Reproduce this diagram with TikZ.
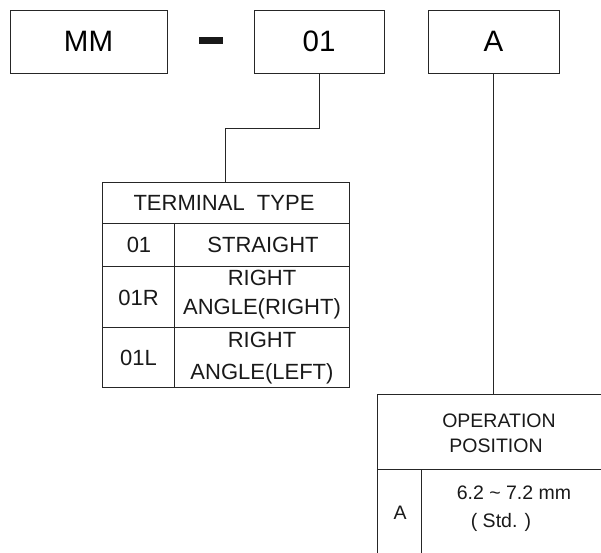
\documentclass[tikz,border=0pt]{standalone}
\usepackage{fontspec}
\setmainfont{Liberation Sans}
\begin{document}
\begin{tikzpicture}[x=1pt,y=-1pt,
  line width=0.9pt,
  ink/.style={draw=black!85},
  box/.style={ink, minimum height=63pt, inner sep=0pt, font=\fontsize{29.5}{30}\selectfont},
  cell/.style={ink, inner sep=0pt},
  tt/.style={font=\fontsize{22}{22}\selectfont, inner sep=0pt, anchor=base, text=black!90},
  ot/.style={font=\fontsize{19.5}{20}\selectfont, inner sep=0pt, anchor=base, text=black!90},
  wire/.style={ink, line width=0.9pt}]
\useasboundingbox (0,0) rectangle (601,552);
\clip (0,0) rectangle (601,552);
% top boxes
\node[box, minimum width=157pt] (mm) at (88.5,41.5) {MM};
\node[fill=black!90, minimum width=24pt, minimum height=7pt, inner sep=0pt] (dash) at (211,40.5) {};
\node[box, minimum width=130pt] (n01) at (319,41.5) {01};
\node[box, minimum width=131pt] (na) at (493.5,41.5) {A};
% terminal type table
\node[cell, minimum width=247pt, minimum height=41pt] (th) at (225.5,202.5) {};
\node[cell, minimum width=72pt, minimum height=43pt] (t1l) at (138,244.5) {};
\node[cell, minimum width=175pt, minimum height=43pt] (t1r) at (261.5,244.5) {};
\node[cell, minimum width=72pt, minimum height=61pt] (t2l) at (138,296.5) {};
\node[cell, minimum width=175pt, minimum height=61pt] (t2r) at (261.5,296.5) {};
\node[cell, minimum width=72pt, minimum height=60pt] (t3l) at (138,357) {};
\node[cell, minimum width=175pt, minimum height=60pt] (t3r) at (261.5,357) {};
\node[tt] (tht) at (224,210) {TERMINAL\ \ TYPE};
\node[tt] (t1a) at (139,252.5) {01};
\node[tt] (t1b) at (263,252.5) {STRAIGHT};
\node[tt] (t2a) at (138.5,305) {01R};
\node[tt] (t2b) at (262,285) {RIGHT};
\node[tt] (t2c) at (262,314.5) {ANGLE(RIGHT)};
\node[tt] (t3a) at (138.5,365.5) {01L};
\node[tt] (t3b) at (262,347.5) {RIGHT};
\node[tt] (t3c) at (262,379) {ANGLE(LEFT)};
% operation position table
\node[cell, minimum width=240pt, minimum height=75pt] (oh) at (497,431.5) {};
\node[cell, minimum width=44pt, minimum height=101pt] (o1l) at (399,519.5) {};
\node[cell, minimum width=196pt, minimum height=101pt] (o1r) at (519,519.5) {};
\node[ot] (oht1) at (499,427) {OPERATION};
\node[ot] (oht2) at (496,452) {POSITION};
\node[ot] (o1a) at (400,519) {A};
\node[ot] (o1b) at (514,499) {6.2 \textasciitilde\ 7.2 mm};
\node[ot] (o1c) at (501,527) {( Std. )};
% connectors
\coordinate (bend) at (225,128);
\draw[wire] (n01.south) |- (bend) -- (bend |- th.north);
\draw[wire] (na.south) -- (na.south |- oh.north);
\end{tikzpicture}
\end{document}
